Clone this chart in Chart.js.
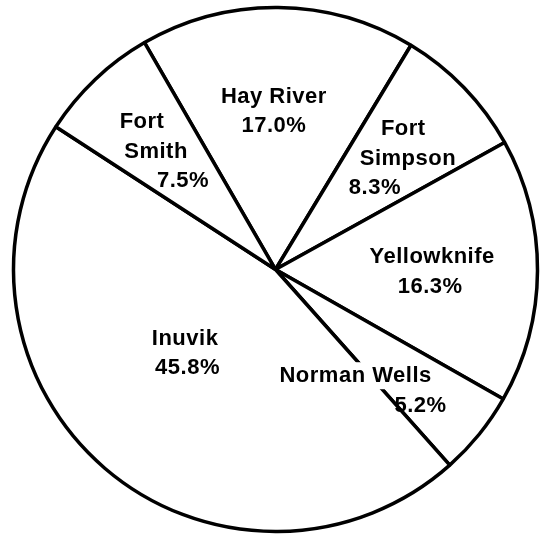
<!DOCTYPE html>
<html>
<head>
<meta charset="utf-8">
<script src="https://cdn.jsdelivr.net/npm/chart.js@4"></script>
<style>
  html, body { margin: 0; padding: 0; background: #ffffff; }
  #wrap { width: 540px; height: 537px; }
</style>
</head>
<body>
<div id="wrap"><canvas id="pie" width="540" height="537"></canvas></div>
<script>
// Share of total by community (percent), clockwise from Hay River
const communities = ['Hay River', 'Fort Simpson', 'Yellowknife', 'Norman Wells', 'Inuvik', 'Fort Smith'];
const shares = [17.0, 8.3, 16.3, 5.2, 45.8, 7.5];

// Label lines for each slice
const nameLines = [['Hay River'], ['Fort', 'Simpson'], ['Yellowknife'], ['Norman Wells'], ['Inuvik'], ['Fort', 'Smith']];

// Placement of each label block relative to its slice:
// dAngle (deg) added to the slice mid-angle, rFrac of the outer radius,
// a horizontal nudge (px) for each line of text, and which lines get a
// white backing so the slice edge is interrupted behind them.
const labelPlacement = [
  { dAngle: -1.5, rFrac: 0.610, dx: [1, 1] },
  { dAngle: 3.5,  rFrac: 0.664, dx: [-4.6, 0, -33] },
  { dAngle: -0.1, rFrac: 0.594, dx: [1, -1] },
  { dAngle: 17.2, rFrac: 0.549, dx: [0, 65], backed: [true, false] },
  { dAngle: 6.8,  rFrac: 0.462, dx: [-1.2, 1.2] },
  { dAngle: -1.4, rFrac: 0.646, dx: [-14, 0, 27] }
];

const sliceLabels = {
  id: 'sliceLabels',
  afterDatasetsDraw(chart) {
    const ctx = chart.ctx;
    const meta = chart.getDatasetMeta(0);
    const lineHeight = 29.5;
    const capHalf = 8;
    ctx.save();
    ctx.font = 'bold 22px "Liberation Sans", Arial, sans-serif';
    if ('letterSpacing' in ctx) ctx.letterSpacing = '0.5px';
    ctx.textAlign = 'center';
    ctx.textBaseline = 'alphabetic';
    meta.data.forEach((arc, i) => {
      const p = arc.getProps(['x', 'y', 'startAngle', 'endAngle', 'outerRadius'], true);
      const place = labelPlacement[i];
      const a = (p.startAngle + p.endAngle) / 2 + place.dAngle * Math.PI / 180;
      const r = p.outerRadius * place.rFrac;
      const ax = p.x + r * Math.cos(a);
      const ay = p.y + r * Math.sin(a);
      const lines = nameLines[i].concat([shares[i].toFixed(1) + '%']);
      const n = lines.length;
      lines.forEach((txt, k) => {
        const y = ay + (k - (n - 1) / 2) * lineHeight + capHalf;
        const x = ax + (place.dx[k] || 0);
        if (place.backed && place.backed[k]) {
          const w = ctx.measureText(txt).width;
          ctx.fillStyle = '#ffffff';
          ctx.fillRect(x - w / 2 - 2, y - 20, w + 4, 27);
        }
        ctx.fillStyle = '#000000';
        ctx.fillText(txt, x, y);
      });
    });
    ctx.restore();
  }
};

new Chart(document.getElementById('pie'), {
  type: 'pie',
  data: {
    labels: communities,
    datasets: [{
      data: shares,
      backgroundColor: '#ffffff',
      borderColor: '#000000',
      borderWidth: 3.5,
      borderAlign: 'center',
      hoverOffset: 0
    }]
  },
  options: {
    responsive: false,
    animation: false,
    rotation: -30,
    layout: { padding: { left: 11.75, right: 0.75, top: 5.75, bottom: 3.75 } },
    plugins: {
      legend: { display: false },
      tooltip: { enabled: false }
    }
  },
  plugins: [sliceLabels]
});
</script>
</body>
</html>
